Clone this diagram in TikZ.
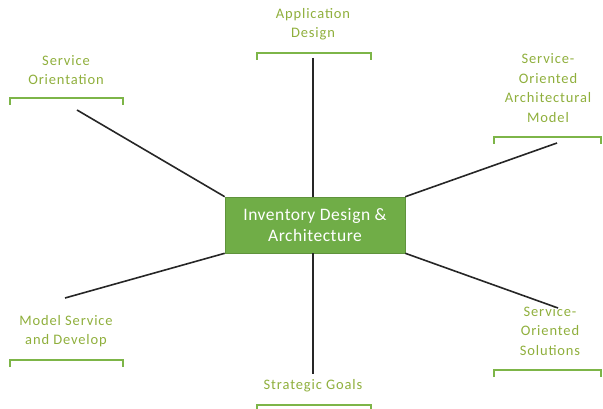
\documentclass[tikz,border=0pt]{standalone}
\usepackage{fontspec}
\setmainfont{Carlito}
\newfontfamily\hubfont[LetterSpace=3]{Carlito}
\newfontfamily\lblfont[LetterSpace=6]{Carlito}
\definecolor{hubgreen}{HTML}{70AD47}
\definecolor{labelgreen}{HTML}{8FAF3C}
\definecolor{bracketgreen}{HTML}{7DB548}
\tikzset{
  hub/.style={fill=hubgreen, draw=hubgreen!85!black, line width=0.6pt, minimum width=180pt, minimum height=56pt,
    text=white, align=center, font=\hubfont\fontsize{17.5}{20.5}\selectfont, inner sep=0pt},
  lbl/.style={text=labelgreen, align=center, font=\lblfont\fontsize{14.5}{19.5}\selectfont, inner sep=0pt},
  spoke/.style={draw=black!85, line width=1.6pt},
  bracket/.style={draw=bracketgreen, line width=1.3pt}
}
\newcommand{\brk}[3]{% left x, right x, y
  \draw[bracket] (#1,#3+7) -- (#1,#3) -- (#2,#3) -- (#2,#3+7);}
\begin{document}
\begin{tikzpicture}[x=1pt,y=-1pt]
  \useasboundingbox (0,0) rectangle (603,409);
  % central topic
  \node[hub] (hub) at (315,225) {Inventory Design \&\\Architecture};

  % labels around the hub
  \node[lbl] (app)   at (313,24)  {Application\\Design};
  \node[lbl] (orient) at (66,70)  {Service\\Orientation};
  \node[lbl] (model) at (548,88)  {Service-\\Oriented\\Architectural\\Model};
  \node[lbl] (dev)   at (66,331)  {Model Service\\and Develop};
  \node[lbl] (goals) at (313,386) {Strategic Goals};
  \node[lbl] (sol)   at (550,331) {Service-\\Oriented\\Solutions};

  % brackets under the labels
  \brk{257}{371}{53}
  \brk{10}{123}{98}
  \brk{494}{601}{137}
  \brk{10}{123}{360}
  \brk{257}{371}{405}
  \brk{494}{601}{370}

  % free ends of the spokes
  \coordinate (eApp) at (313,58);
  \coordinate (eOrient) at (77,110);
  \coordinate (eModel) at (557,143);
  \coordinate (eDev) at (65,298);
  \coordinate (eGoals) at (313,374);
  \coordinate (eSol) at (558,308);

  % spokes
  \draw[spoke] (hub.north) ++(-2,0) coordinate (hn) (eApp) -- (hn);
  \draw[spoke] (eOrient) -- (hub.north west);
  \draw[spoke] (eModel) -- (hub.north east);
  \draw[spoke] (eDev) -- (hub.south west);
  \draw[spoke] (hub.south) ++(-2,0) coordinate (hs) (hs) -- (eGoals);
  \draw[spoke] (hub.south east) -- (eSol);
\end{tikzpicture}
\end{document}
